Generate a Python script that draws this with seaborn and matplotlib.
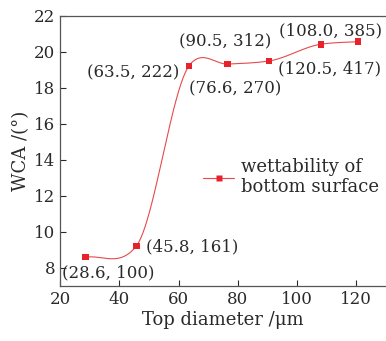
import numpy as np
import pandas as pd
import matplotlib
matplotlib.use('Agg')
import matplotlib.pyplot as plt
from matplotlib.lines import Line2D
import seaborn as sns

# data
top_diameter = [28.6, 45.8, 63.5, 76.6, 90.5, 108.0, 120.5]
wca = [8.6, 9.23, 19.22, 19.33, 19.5, 20.43, 20.57]
labels = ['(28.6, 100)', '(45.8, 161)', '(63.5, 222)', '(76.6, 270)',
          '(90.5, 312)', '(108.0, 385)', '(120.5, 417)']

# label placement (pixel offsets from point, alignment)
offsets = [(-23, -16, 'left'), (10, -1, 'left'), (-10, -7, 'right'),
           (7, -25, 'center'), (-44, 20, 'center'), (10, 13, 'center'),
           (-28, -27, 'center')]


def CardinalSpline(x, y, xs, tension=0.3):
    # smooth connecting line through the points (like Origin's spline)
    x = np.asarray(x, float)
    y = np.asarray(y, float)
    n = len(x)
    m = np.empty(n)
    m[0] = (y[1] - y[0]) / (x[1] - x[0])
    m[-1] = (y[-1] - y[-2]) / (x[-1] - x[-2])
    m[1:-1] = (y[2:] - y[:-2]) / (x[2:] - x[:-2])
    m = m * (1 - tension)
    out = np.empty_like(xs)
    for k, xv in enumerate(xs):
        i = min(max(np.searchsorted(x, xv) - 1, 0), n - 2)
        h = x[i + 1] - x[i]
        t = (xv - x[i]) / h
        out[k] = (2 * t**3 - 3 * t**2 + 1) * y[i] + (t**3 - 2 * t**2 + t) * h * m[i] \
            + (-2 * t**3 + 3 * t**2) * y[i + 1] + (t**3 - t**2) * h * m[i + 1]
    return out


sns.set_style('ticks')
plt.rcParams['font.family'] = ['DejaVu Serif']
plt.rcParams['mathtext.fontset'] = 'dejavuserif'

red = '#e8222a'
line_red = '#e64a4c'
txt = '#2a2a2a'

fig = plt.figure(figsize=(3.86, 3.41), dpi=100)
ax = fig.add_axes([0.1554, 0.1613, 0.8446, 0.7918])

xs = np.linspace(top_diameter[0], top_diameter[-1], 400)
curve = pd.DataFrame({'x': xs, 'y': CardinalSpline(top_diameter, wca, xs)})
pts = pd.DataFrame({'x': top_diameter, 'y': wca})

sns.lineplot(data=curve, x='x', y='y', ax=ax, color=line_red, lw=0.8)
sns.scatterplot(data=pts, x='x', y='y', ax=ax, marker='s', s=22,
                color=red, edgecolor='none', zorder=3)

for xv, yv, lab, (dx, dy, ha) in zip(top_diameter, wca, labels, offsets):
    ax.annotate(lab, (xv, yv), xytext=(dx, dy), textcoords='offset pixels',
                ha=ha, va='center', fontsize=12, color=txt)

handle = Line2D([], [], color=line_red, lw=0.8, marker='s', ms=4.5,
                mfc=red, mec='none')
ax.legend([handle], ['wettability of\nbottom surface'], loc='center left',
          bbox_to_anchor=(0.44, 0.404), frameon=False, fontsize=13,
          handlelength=1.7, handletextpad=0.4, borderpad=0, borderaxespad=0,
          labelcolor=txt)

ax.set_xlim(20, 130)
ax.set_ylim(7, 22)
ax.set_xticks(range(20, 121, 20))
ax.set_yticks(range(8, 23, 2))
ax.tick_params(direction='in', labelsize=12, length=4, width=0.8,
               colors=txt)
ax.set_xlabel('Top diameter /μm', fontsize=13, color=txt, labelpad=2)
ax.set_ylabel('WCA /(°)', fontsize=13, color=txt, labelpad=3)
for s in ['left', 'bottom', 'top']:
    ax.spines[s].set_color('#555555')
    ax.spines[s].set_linewidth(0.9)
ax.spines['right'].set_visible(False)

fig.savefig('out.png', dpi=100)
